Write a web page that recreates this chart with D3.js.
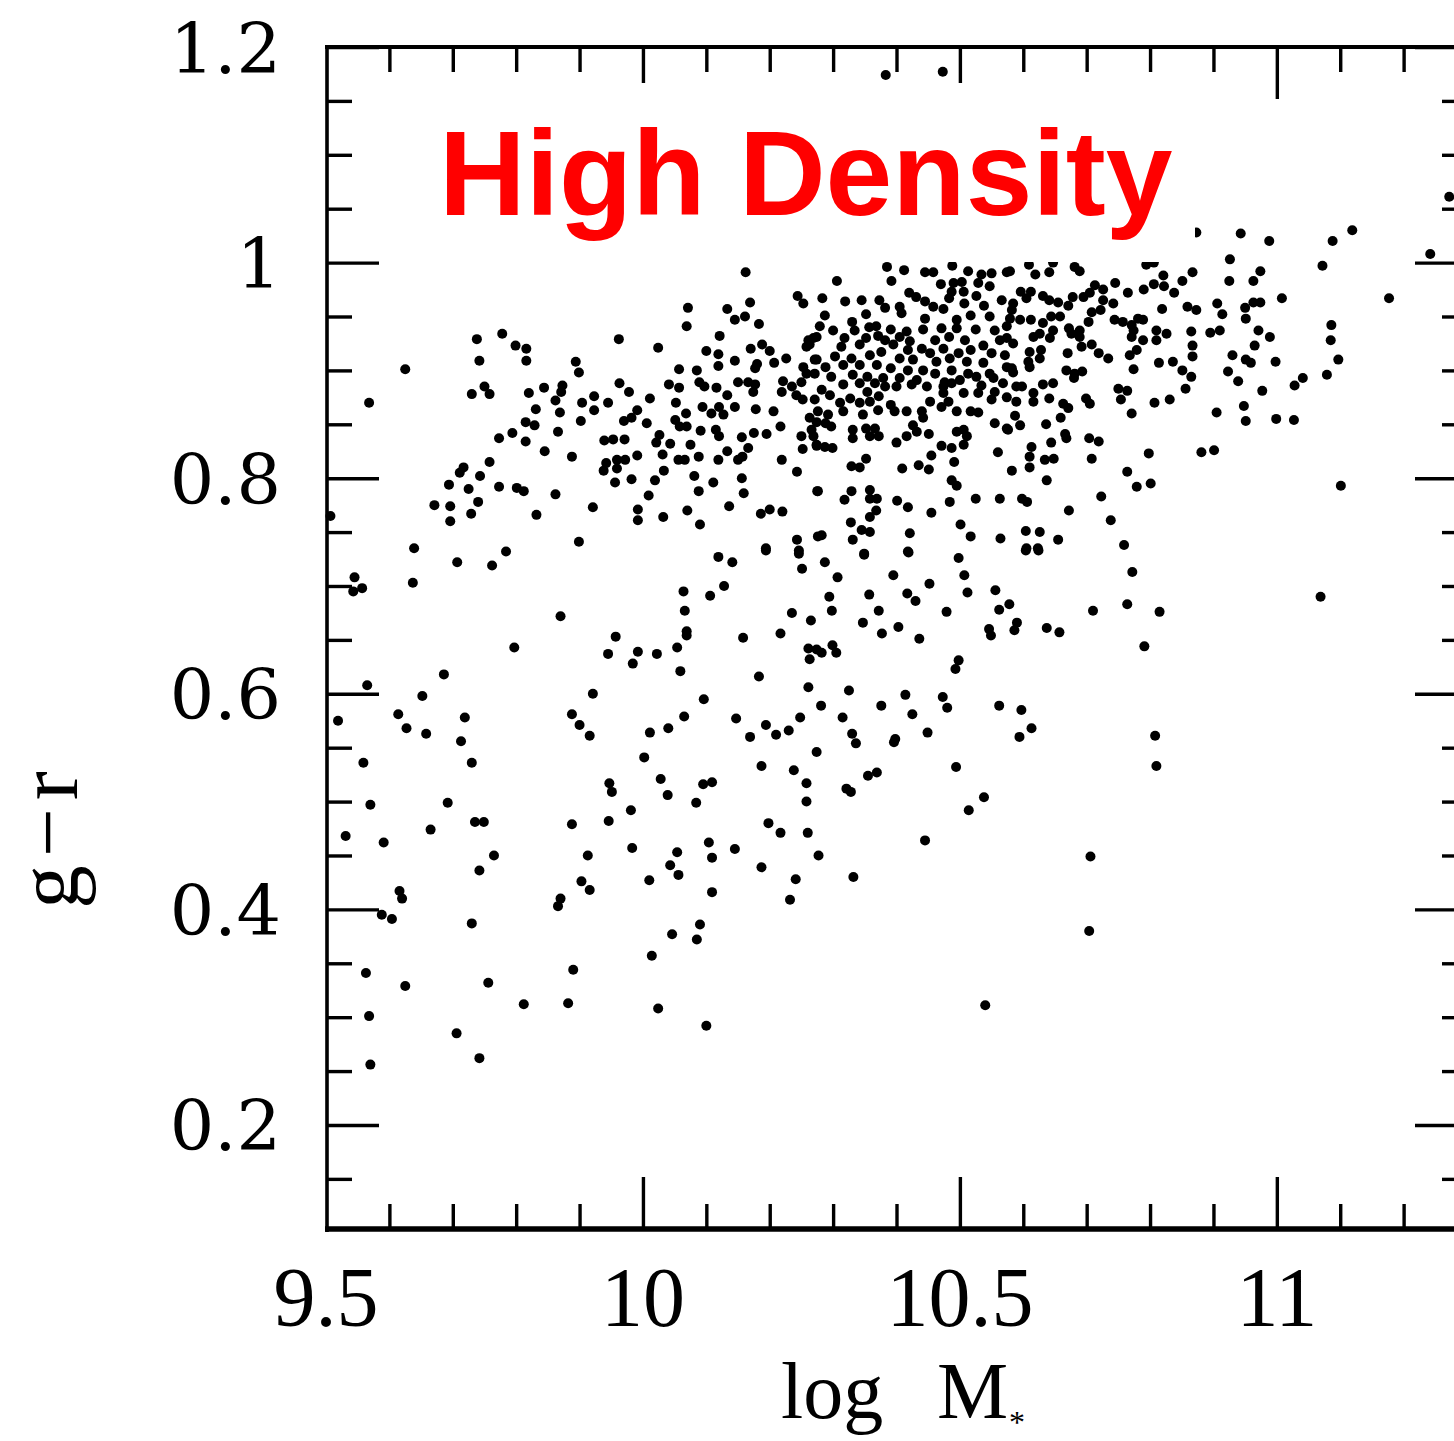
<!DOCTYPE html>
<html><head><meta charset="utf-8">
<script src="https://cdn.jsdelivr.net/npm/d3@7"></script>
<style>html,body{margin:0;padding:0;background:#fff}svg{display:block}</style>
</head><body>
<script>
// Galaxies: [log M*, g-r]
const galaxies = [
[9.738,0.929],[9.778,0.934],[9.799,0.923],[9.816,0.920],[9.816,0.909],[9.742,0.909],[9.625,0.901],[9.568,0.870],[9.894,0.908],[9.899,0.898],[9.962,0.929],[9.963,0.888],[9.730,0.878],[9.750,0.885],[9.758,0.878],[9.820,0.879],[9.844,0.884],[9.873,0.886],[9.871,0.880],[9.862,0.872],[9.904,0.870],[9.923,0.876],[9.945,0.870],[9.923,0.863],[9.831,0.864],[9.869,0.861],[9.902,0.853],[9.970,0.853],[9.815,0.852],[9.829,0.849],[9.794,0.842],[9.773,0.837],[9.815,0.834],[9.866,0.843],[9.939,0.835],[9.953,0.836],[9.971,0.836],[9.845,0.825],[9.888,0.820],[9.758,0.815],[9.717,0.810],[9.711,0.805],[9.743,0.802],[9.694,0.794],[9.725,0.790],[9.773,0.792],[9.801,0.791],[9.812,0.788],[9.862,0.785],[9.740,0.778],[9.671,0.775],[9.696,0.774],[9.729,0.767],[9.696,0.760],[9.832,0.766],[9.921,0.773],[9.507,0.765],[9.639,0.735],[9.784,0.732],[9.899,0.741],[9.959,0.817],[9.942,0.814],[9.938,0.807],[9.959,0.809],[9.956,0.796],[9.972,0.817],
[9.707,0.722],[9.762,0.719],[9.545,0.708],[9.543,0.695],[9.557,0.698],[9.637,0.703],[9.870,0.672],[9.957,0.653],[9.945,0.637],[9.797,0.643],[9.686,0.618],[9.565,0.608],[9.652,0.598],[9.921,0.600],[9.519,0.575],[9.614,0.581],[9.627,0.568],[9.658,0.563],[9.719,0.578],[9.713,0.556],[9.888,0.581],[9.900,0.571],[9.916,0.561],[9.559,0.536],[9.730,0.536],[9.947,0.517],[9.951,0.509],[9.570,0.497],[9.692,0.499],[9.946,0.482],[9.735,0.481],[9.749,0.481],[9.888,0.479],[9.531,0.468],[9.665,0.474],[9.591,0.462],[9.765,0.450],[9.913,0.450],[9.742,0.436],[9.903,0.426],[9.916,0.418],[9.616,0.417],[9.620,0.410],[9.870,0.410],[9.866,0.403],[9.588,0.395],[9.604,0.391],[9.730,0.387],[9.563,0.341],[9.625,0.329],[9.756,0.332],[9.890,0.344],[9.812,0.312],[9.882,0.313],[9.568,0.301],[9.706,0.285],[9.742,0.262],[9.570,0.256],
[10.119,0.727],[10.141,0.722],[10.194,0.733],[10.246,0.730],[10.251,0.716],[10.287,0.722],[10.307,0.708],[10.349,0.729],[10.395,0.710],[10.419,0.731],[10.064,0.695],[10.106,0.691],[10.128,0.700],[10.066,0.677],[10.069,0.658],[10.069,0.654],[9.992,0.639],[10.022,0.637],[10.054,0.643],[9.984,0.628],[10.059,0.621],[10.158,0.652],[10.217,0.656],[10.235,0.675],[10.265,0.668],[10.294,0.690],[10.298,0.677],[10.347,0.666],[10.357,0.692],[10.372,0.677],[10.377,0.656],[10.403,0.662],[10.417,0.693],[10.430,0.686],[10.436,0.651],[10.261,0.642],[10.274,0.641],[10.282,0.638],[10.299,0.645],[10.305,0.638],[10.263,0.632],[10.183,0.616],[10.261,0.606],[10.325,0.603],[10.414,0.599],[10.096,0.595],[10.065,0.579],[10.147,0.577],[10.011,0.564],[10.040,0.568],[10.194,0.571],[10.169,0.560],[10.210,0.562],[10.230,0.566],[10.248,0.578],[10.281,0.589],[10.315,0.578],[10.376,0.589],[10.425,0.581],[10.330,0.563],[10.336,0.554],[10.396,0.555],[10.398,0.558],[10.274,0.546],[10.002,0.541],[10.187,0.533],[10.238,0.529],[10.258,0.517],[10.258,0.500],[10.028,0.521],[10.095,0.516],[10.109,0.518],[10.039,0.506],[10.084,0.499],[9.981,0.492],[10.321,0.512],[10.328,0.509],[10.355,0.524],[10.369,0.527],[10.198,0.480],[10.217,0.471],[10.260,0.471],[9.983,0.457],[10.054,0.453],[10.104,0.462],[10.109,0.448],[10.145,0.456],[10.043,0.441],[10.056,0.432],[10.010,0.427],[10.187,0.439],[10.277,0.450],[10.241,0.428],[10.332,0.430],[10.232,0.409],[10.109,0.416],[10.090,0.386],[10.046,0.377],[10.085,0.372],[10.014,0.357],[10.024,0.308],[10.100,0.292],
[10.498,0.726],[10.507,0.710],[10.512,0.694],[10.452,0.702],[10.479,0.676],[10.556,0.696],[10.562,0.678],[10.578,0.683],[10.546,0.660],[10.549,0.654],[10.590,0.666],[10.586,0.659],[10.637,0.661],[10.657,0.657],[10.604,0.733],[10.624,0.733],[10.710,0.677],[10.764,0.683],[10.772,0.713],[10.815,0.676],[10.791,0.644],[10.498,0.631],[10.493,0.623],[10.473,0.597],[10.480,0.587],[10.562,0.589],[10.597,0.585],[10.613,0.568],[10.594,0.560],[10.449,0.564],[10.808,0.561],[10.810,0.533],[10.494,0.532],[10.538,0.504],[10.514,0.492],[10.445,0.464],[10.706,0.449],[10.704,0.380],[10.540,0.311],[11.069,0.690],
[10.873,1.028],[10.943,1.027],[10.988,1.020],[11.088,1.020],[11.119,1.030],[11.242,1.008],[10.926,1.003],[10.867,0.991],[10.925,0.983],[10.963,0.983],[10.974,0.992],[11.008,0.967],[11.072,0.997],[11.177,0.967],[10.873,0.956],[10.906,0.962],[10.914,0.952],[10.950,0.958],[10.963,0.963],[10.974,0.963],[10.951,0.948],[11.086,0.942],[11.085,0.928],[11.097,0.910],[11.079,0.896],[11.041,0.893],[11.028,0.886],[10.865,0.936],[10.895,0.935],[10.910,0.937],[10.971,0.937],[10.989,0.931],[10.965,0.923],[10.867,0.923],[10.867,0.913],[10.930,0.914],[10.951,0.910],[10.959,0.907],[10.998,0.908],[10.923,0.899],[10.939,0.890],[10.865,0.894],[10.977,0.881],[10.948,0.867],[10.905,0.861],[10.951,0.853],[10.999,0.855],[11.027,0.854],[10.881,0.824],[10.901,0.826],[11.101,0.793],
[10.383,1.174],[10.473,1.177],[11.272,1.061],
[10.162,0.991],[10.071,0.958],[10.069,0.941],[10.169,0.963],[10.133,0.957],[10.145,0.947],[10.161,0.950],[10.183,0.943],[10.244,0.969],[10.253,0.962],[10.024,0.921],[10.121,0.932],[10.100,0.918],[10.119,0.915],[10.119,0.904],[10.145,0.909],[10.170,0.920],[10.188,0.924],[10.200,0.918],[10.207,0.907],[10.226,0.911],[10.180,0.906],[10.177,0.902],[10.057,0.901],[10.085,0.900],[10.261,0.928],[10.274,0.931],[10.258,0.922],[10.271,0.910],[10.253,0.903],[10.258,0.897],[10.041,0.887],[10.057,0.884],[10.089,0.889],[10.097,0.885],[10.116,0.884],[10.150,0.889],[10.166,0.889],[10.177,0.887],[10.174,0.880],[10.221,0.890],[10.235,0.885],[10.250,0.889],[10.219,0.880],[10.242,0.877],[10.252,0.873],[9.978,0.880],[10.011,0.874],[10.052,0.870],[10.068,0.860],[10.094,0.866],[10.133,0.877],[10.145,0.866],[10.108,0.860],[10.120,0.866],[10.127,0.859],[10.178,0.864],[10.206,0.862],[10.217,0.848],[9.991,0.863],[9.982,0.856],[10.006,0.851],[10.051,0.854],[10.058,0.848],[10.069,0.848],[10.091,0.844],[10.115,0.845],[10.120,0.839],[10.156,0.838],[10.175,0.842],[10.195,0.841],[10.250,0.839],[10.266,0.845],[10.274,0.831],[10.026,0.840],[10.021,0.833],[10.043,0.832],[10.075,0.831],[10.166,0.828],[10.133,0.825],[10.088,0.820],[10.056,0.817],[10.066,0.817],[10.031,0.822],[9.991,0.821],[10.119,0.817],[10.150,0.817],[10.157,0.820],[10.219,0.817],[10.252,0.827],[10.033,0.807],[9.982,0.799],[10.019,0.798],[10.081,0.802],[10.111,0.796],[10.088,0.788],[10.156,0.800],[10.159,0.786],[10.243,0.806],[10.275,0.788],[10.009,0.784],[9.992,0.771],[9.992,0.761],[10.032,0.764],[10.070,0.770],[10.090,0.757],[10.136,0.774],[10.186,0.767],[10.200,0.771],[10.220,0.769],[10.194,0.735],[10.243,0.743],[10.246,0.733],[10.276,0.746],
[10.385,0.996],[10.412,0.993],[10.392,0.983],[10.445,0.991],[10.458,0.991],[10.488,0.997],[10.513,0.992],[10.534,0.989],[10.550,0.990],[10.574,0.991],[10.306,0.983],[10.470,0.980],[10.490,0.981],[10.503,0.982],[10.529,0.981],[10.547,0.978],[10.487,0.973],[10.506,0.973],[10.420,0.972],[10.431,0.968],[10.283,0.967],[10.319,0.964],[10.345,0.965],[10.373,0.965],[10.382,0.958],[10.405,0.959],[10.408,0.953],[10.445,0.964],[10.458,0.959],[10.474,0.957],[10.483,0.967],[10.507,0.962],[10.526,0.969],[10.538,0.960],[10.566,0.965],[10.287,0.951],[10.330,0.945],[10.352,0.952],[10.445,0.948],[10.495,0.947],[10.517,0.951],[10.547,0.950],[10.279,0.941],[10.300,0.937],[10.334,0.937],[10.357,0.940],[10.368,0.941],[10.391,0.938],[10.416,0.936],[10.442,0.938],[10.471,0.939],[10.495,0.939],[10.525,0.938],[10.555,0.937],[10.574,0.941],[10.269,0.930],[10.318,0.930],[10.352,0.930],[10.371,0.932],[10.382,0.928],[10.405,0.931],[10.421,0.927],[10.461,0.928],[10.483,0.931],[10.508,0.928],[10.537,0.923],[10.563,0.928],[10.263,0.924],[10.313,0.922],[10.342,0.924],[10.395,0.924],[10.418,0.919],[10.440,0.920],[10.453,0.916],[10.474,0.920],[10.498,0.916],[10.517,0.919],[10.550,0.916],[10.571,0.914],[10.274,0.910],[10.303,0.913],[10.329,0.911],[10.358,0.914],[10.376,0.917],[10.405,0.911],[10.426,0.910],[10.463,0.908],[10.484,0.911],[10.511,0.908],[10.537,0.907],[10.288,0.903],[10.316,0.905],[10.342,0.905],[10.369,0.905],[10.391,0.902],[10.418,0.900],[10.442,0.900],[10.461,0.897],[10.487,0.900],[10.513,0.897],[10.547,0.897],[10.574,0.903],[10.271,0.897],[10.297,0.894],[10.331,0.896],[10.354,0.894],[10.379,0.893],[10.405,0.893],[10.432,0.891],[10.476,0.889],[10.500,0.891],[10.526,0.894],[10.553,0.893],[10.568,0.888],[10.316,0.887],[10.342,0.888],[10.366,0.888],[10.400,0.885],[10.424,0.887],[10.448,0.885],[10.474,0.885],[10.487,0.888],[10.506,0.879],[10.529,0.879],[10.282,0.882],[10.295,0.877],[10.327,0.874],[10.354,0.880],[10.372,0.876],[10.382,0.885],[10.453,0.871],[10.474,0.879],[10.482,0.871],[10.555,0.880],[10.271,0.873],[10.311,0.870],[10.342,0.870],[10.358,0.871],[10.391,0.868],[10.276,0.862],[10.292,0.859],[10.263,0.856],[10.316,0.862],[10.347,0.859],[10.371,0.863],[10.397,0.862],[10.416,0.862],[10.440,0.862],[10.442,0.856],[10.471,0.866],[10.495,0.862],[10.517,0.862],[10.529,0.861],[10.555,0.851],[10.574,0.846],[10.274,0.852],[10.288,0.851],[10.297,0.848],[10.331,0.845],[10.352,0.846],[10.366,0.846],[10.331,0.837],[10.358,0.839],[10.372,0.839],[10.426,0.849],[10.432,0.843],[10.451,0.841],[10.495,0.843],[10.506,0.845],[10.511,0.839],[10.416,0.839],[10.400,0.833],[10.269,0.839],[10.274,0.830],[10.287,0.829],[10.299,0.828],[10.471,0.830],[10.487,0.828],[10.506,0.831],[10.560,0.824],[10.455,0.821],[10.491,0.815],[10.352,0.818],[10.329,0.811],[10.342,0.810],[10.409,0.809],[10.435,0.812],[10.451,0.808],[10.487,0.798],[10.495,0.793],[10.276,0.788],[10.318,0.780],[10.329,0.788],[10.358,0.789],[10.358,0.781],[10.369,0.781],[10.401,0.779],[10.418,0.773],[10.455,0.768],[10.484,0.778],[10.525,0.781],[10.563,0.781],[10.368,0.770],[10.358,0.764],[10.328,0.759],[10.345,0.752],[10.358,0.750],[10.282,0.747],[10.331,0.743],[10.421,0.749],[10.501,0.757],[10.517,0.746],[10.564,0.744],[10.349,0.730],[10.418,0.732],[10.534,0.886],[10.550,0.873],
[10.609,0.998],[10.647,1.000],[10.579,0.992],[10.619,0.989],[10.641,0.991],[10.681,0.996],[10.689,0.992],[10.794,0.998],[10.806,1.000],[10.821,0.988],[10.851,0.983],[10.745,0.981],[10.765,0.972],[10.790,0.975],[10.806,0.980],[10.822,0.978],[10.838,0.972],[10.596,0.973],[10.612,0.973],[10.584,0.962],[10.605,0.967],[10.631,0.969],[10.641,0.965],[10.655,0.963],[10.671,0.960],[10.678,0.968],[10.695,0.968],[10.705,0.972],[10.713,0.979],[10.726,0.975],[10.726,0.965],[10.742,0.962],[10.708,0.954],[10.722,0.956],[10.582,0.956],[10.579,0.948],[10.595,0.947],[10.612,0.947],[10.631,0.944],[10.644,0.950],[10.658,0.950],[10.647,0.937],[10.672,0.939],[10.689,0.937],[10.703,0.945],[10.574,0.930],[10.584,0.925],[10.616,0.931],[10.626,0.934],[10.642,0.930],[10.676,0.934],[10.689,0.931],[10.744,0.947],[10.757,0.945],[10.771,0.942],[10.781,0.948],[10.789,0.947],[10.774,0.937],[10.771,0.931],[10.789,0.928],[10.810,0.937],[10.826,0.934],[10.810,0.928],[10.819,0.957],[10.859,0.959],[10.610,0.917],[10.628,0.919],[10.626,0.911],[10.670,0.916],[10.692,0.922],[10.708,0.924],[10.719,0.916],[10.734,0.911],[10.768,0.914],[10.779,0.919],[10.582,0.902],[10.584,0.898],[10.608,0.908],[10.610,0.903],[10.668,0.900],[10.681,0.897],[10.693,0.899],[10.680,0.893],[10.774,0.901],[10.814,0.907],[10.836,0.908],[10.851,0.900],[10.856,0.883],[10.574,0.875],[10.589,0.885],[10.598,0.885],[10.589,0.871],[10.616,0.879],[10.616,0.871],[10.631,0.887],[10.647,0.888],[10.641,0.874],[10.663,0.869],[10.671,0.865],[10.699,0.874],[10.705,0.869],[10.750,0.883],[10.764,0.881],[10.754,0.873],[10.807,0.870],[10.831,0.873],[10.771,0.860],[10.587,0.858],[10.595,0.849],[10.576,0.845],[10.659,0.856],[10.636,0.850],[10.666,0.841],[10.668,0.837],[10.704,0.837],[10.719,0.834],[10.644,0.833],[10.613,0.829],[10.610,0.820],[10.634,0.817],[10.648,0.818],[10.708,0.818],[10.610,0.810],[10.798,0.823],[10.582,0.807],[10.637,0.798],[10.764,0.806],[10.779,0.792],[10.801,0.795],[10.598,0.781],[10.606,0.778],[10.672,0.770],[10.723,0.783],[10.738,0.761],[10.604,0.751],[10.626,0.750],[10.605,0.735],[10.623,0.735],[10.655,0.743],[10.759,0.738]
];

const xDomain = [9.5, 11.3];
const yDomain = [0.1035, 1.2];
const xTickLabels = [9.5, 10, 10.5, 11];
const yTickLabels = [0.2, 0.4, 0.6, 0.8, 1, 1.2];
const xMinorTicks = d3.range(96, 113).map(v => v / 10);
const xMajorTicks = [10, 10.5, 11];
const yMinorTicks = d3.range(3, 24).map(v => +(v * 0.05).toFixed(2));
const yMajorTicks = [0.2, 0.4, 0.6, 0.8, 1.0, 1.2];
const title = "High Density";
const yTitle = "g\u2212r";

const W = 1454, H = 1441;
const L = 327, R = 1467, T = 47, B = 1229;
const x = d3.scaleLinear().domain(xDomain).range([326, 1467]);
const y = d3.scaleLinear().domain(yDomain).range([B, T]);

const svg = d3.select("body").append("svg").attr("width", W).attr("height", H)
  .style("background", "#fff");

// points
svg.append("g").selectAll("circle").data(galaxies).join("circle")
  .attr("cx", d => x(d[0])).attr("cy", d => y(d[1])).attr("r", 5).attr("fill", "#000");

function styleAxis(g, w) {
  g.select(".domain").remove();
  g.selectAll(".tick line").attr("stroke", "#000").attr("stroke-width", w);
  g.selectAll(".tick text").remove();
}
const tw = 3.4;
const xMinorOnly = xMinorTicks.filter(v => !xMajorTicks.includes(v));
const yMinorOnly = yMinorTicks.filter(v => !yMajorTicks.some(m => Math.abs(m - v) < 1e-6));
// bottom / top ticks
[[d3.axisBottom, B], [d3.axisTop, T]].forEach(([ax, pos]) => {
  svg.append("g").attr("transform", `translate(0,${pos})`)
    .call(ax(x).tickValues(xMinorOnly).tickSize(-25).tickFormat(""))
    .call(g => styleAxis(g, tw));
  svg.append("g").attr("transform", `translate(0,${pos})`)
    .call(ax(x).tickValues(xMajorTicks).tickSize(-52).tickFormat(""))
    .call(g => styleAxis(g, tw));
});
// left / right ticks
[[d3.axisLeft, L], [d3.axisRight, R]].forEach(([ax, pos]) => {
  svg.append("g").attr("transform", `translate(${pos},0)`)
    .call(ax(y).tickValues(yMinorOnly).tickSize(-25).tickFormat(""))
    .call(g => styleAxis(g, tw));
  svg.append("g").attr("transform", `translate(${pos},0)`)
    .call(ax(y).tickValues(yMajorTicks).tickSize(-52).tickFormat(""))
    .call(g => styleAxis(g, tw));
});

// frame
svg.append("line").attr("x1", L).attr("x2", L).attr("y1", T - 2).attr("y2", B + 3).attr("stroke", "#000").attr("stroke-width", 3.6);
svg.append("line").attr("x1", L - 2).attr("x2", R).attr("y1", T).attr("y2", T).attr("stroke", "#000").attr("stroke-width", 4.2);
svg.append("line").attr("x1", L - 2).attr("x2", R).attr("y1", B).attr("y2", B).attr("stroke", "#000").attr("stroke-width", 5.5);
svg.append("line").attr("x1", R).attr("x2", R).attr("y1", T).attr("y2", B).attr("stroke", "#000").attr("stroke-width", 4);

// tick labels
svg.append("g").selectAll("text").data(yTickLabels).join("text")
  .attr("x", 281).attr("y", d => y(d) + 25.5)
  .attr("text-anchor", "end").attr("font-family", "DejaVu Serif").attr("font-size", 70)
  .attr("fill", "#000").text(d => d3.format("")(d));
svg.append("g").selectAll("text").data(xTickLabels).join("text")
  .attr("x", d => x(d)).attr("y", 1326)
  .attr("text-anchor", "middle").attr("font-family", "Liberation Serif").attr("font-size", 84)
  .attr("fill", "#000").text(d => d3.format("")(d));

// axis titles
const xt = svg.append("g").attr("font-family", "Liberation Serif").attr("fill", "#000");
xt.append("text").attr("x", 781).attr("y", 1418).attr("font-size", 80).text("log");
xt.append("text").attr("x", 937).attr("y", 1418).attr("font-size", 80).text("M");
xt.append("text").attr("x", 1009).attr("y", 1433).attr("font-size", 32).text("*");

svg.append("text").attr("transform", "translate(77,836) rotate(-90)")
  .attr("text-anchor", "middle").attr("font-family", "Liberation Serif").attr("font-size", 87)
  .attr("letter-spacing", 8).attr("fill", "#000").text(yTitle);

// annotation: white box with red label
svg.append("rect").attr("x", 432).attr("y", 83).attr("width", 1195 - 432).attr("height", 262 - 83).attr("fill", "#fff");
svg.append("text").attr("x", 439).attr("y", 215)
  .attr("font-family", "Liberation Sans, Arial, sans-serif").attr("font-weight", "bold").attr("font-size", 120)
  .attr("fill", "#ff0000").text(title);
</script>
</body></html>
